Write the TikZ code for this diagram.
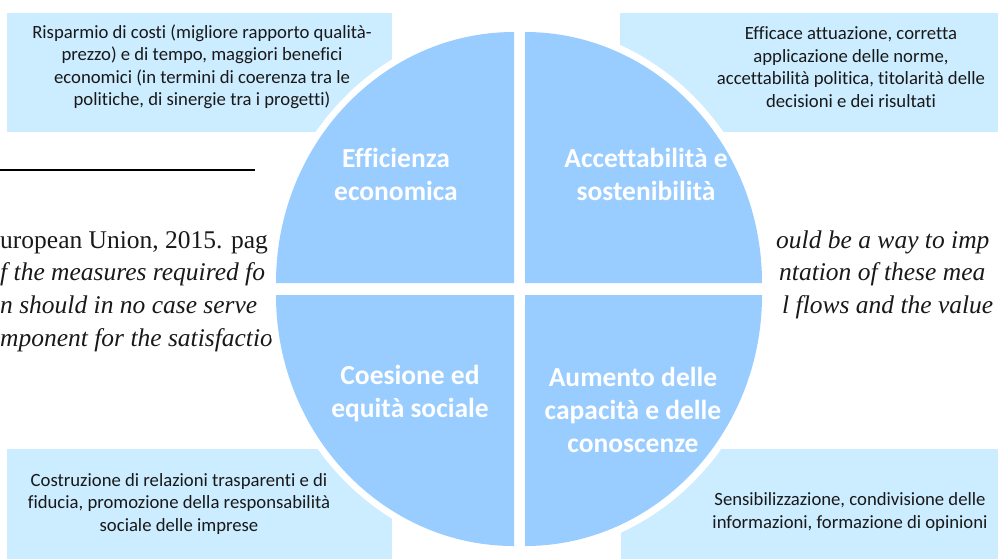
\documentclass[tikz,border=0pt]{standalone}
\usepackage{fontspec}
\setmainfont{Carlito}[Ligatures=NoCommon]
\newfontfamily\pagefont{Liberation Serif}
\usetikzlibrary{positioning}
\definecolor{quadblue}{RGB}{153,204,255}
\definecolor{boxblue}{RGB}{204,236,255}
\begin{document}
\begin{tikzpicture}[x=1pt, y=-1pt,
		box/.style = {rectangle, fill=boxblue, draw=none, inner sep=0pt},
		note/.style = {align=center, text=black!90, font=\fontsize{18.7}{22.5}\selectfont},
		quad/.style = {fill=quadblue},
		title/.style = {align=center, text=white, font=\bfseries\fontsize{27.5}{33}\selectfont},
		page/.style = {anchor=base west, inner sep=0pt, text=black!90, font=\pagefont\fontsize{25.5}{33}\selectfont},
		pageit/.style = {page, font=\pagefont\itshape\fontsize{25.5}{33}\selectfont},
	]
	\useasboundingbox (0,0) rectangle (998,558);
	\clip (0,0) rectangle (998,558);

	% page text behind the figure
	\coordinate (RL) at (0,170);
	\coordinate (RR) at (255,170);
	\draw[line width=1.3pt] (RL)--(RR);
	\node[page](P1) at (0,248){uropean Union, 2015. pag};
	\node[pageit](P2) at (0,280){f the measures required fo};
	\node[pageit](P3) at (0,313){n should in no case serve};
	\node[pageit](P4) at (0,346){mponent for the satisfactio};
	\node[pageit](Q1) at (776,248){ould be a way to imp};
	\node[pageit](Q2) at (779,280){ntation of these mea};
	\node[pageit](Q3) at (782,313){l flows and the value};

	% boxes
	\node[box, minimum width=385pt, minimum height=119pt](BTL) at (199.5,72.5){};
	\node[box, minimum width=390pt, minimum height=119pt](BTR) at (815,72.5){};
	\node[box, minimum width=385pt, minimum height=121pt](BBL) at (199.5,509.5){};
	\node[box, minimum width=390pt, minimum height=121pt](BBR) at (816,509.5){};

	\node[note](TL) at (202,67){Risparmio di costi (migliore rapporto qualità-\\prezzo) e di tempo, maggiori benefici\\economici (in termini di coerenza tra le\\politiche, di sinergie tra i progetti)};
	\node[note](TR) at (851,67){Efficace attuazione, corretta\\applicazione delle norme,\\accettabilità politica, titolarità delle\\decisioni e dei risultati};
	\node[note](BL) at (179,504){Costruzione di relazioni trasparenti e di\\fiducia, promozione della responsabilità\\sociale delle imprese};
	\node[note](BR) at (850,512){Sensibilizzazione, condivisione delle\\informazioni, formazione di opinioni};

	% circle in four parts
	\fill[white] (519.5,289) ellipse [x radius=252.5, y radius=266];
	\fill[quad] (514,283) -- (276,283) arc[start angle=180, end angle=270, x radius=238, y radius=251] -- cycle;
	\fill[quad] (525,283) -- (525,32) arc[start angle=270, end angle=360, x radius=237, y radius=251] -- cycle;
	\fill[quad] (525,295) -- (762,295) arc[start angle=0, end angle=90, x radius=237, y radius=251] -- cycle;
	\fill[quad] (514,295) -- (514,546) arc[start angle=90, end angle=180, x radius=238, y radius=251] -- cycle;

	\node[title](EE) at (396,174){Efficienza\\economica};
	\node[title](AS) at (646,174){Accettabilità e\\sostenibilità};
	\node[title](CE) at (410,394){Coesione ed\\equità sociale};
	\node[title](AC) at (633,410){Aumento delle\\capacità e delle\\conoscenze};

\end{tikzpicture}
\end{document}
